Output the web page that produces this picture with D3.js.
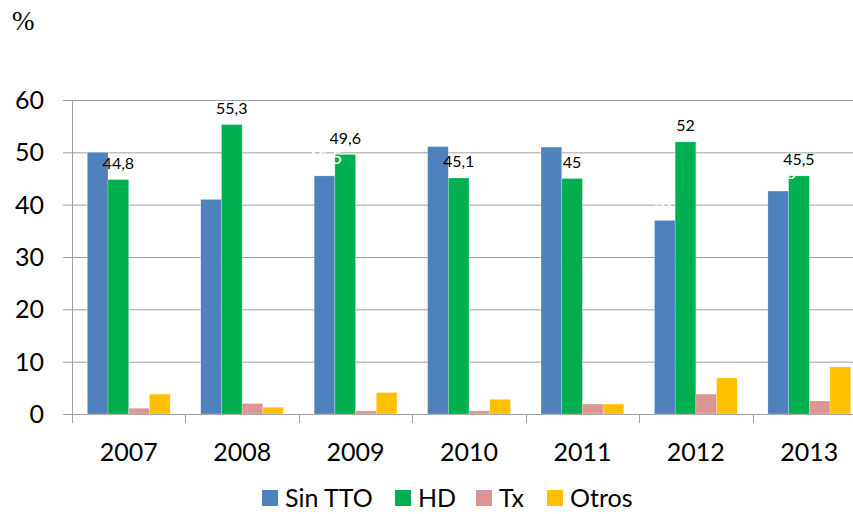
<!DOCTYPE html>
<html>
<head>
<meta charset="utf-8">
<script src="https://cdn.jsdelivr.net/npm/d3@7"></script>
<style>
  body { margin: 0; background: #fff; }
  text { font-family: Lato, "Open Sans", sans-serif; }
</style>
</head>
<body>
<div id="chart"></div>
<script>
let years = ["2007", "2008", "2009", "2010", "2011", "2012", "2013"];
let series = ["Sin TTO", "HD", "Tx", "Otros"];
let sinTTO = [50, 41, 45.5, 51.1, 51, 37, 42.6];
let hd = [44.8, 55.3, 49.6, 45.1, 45, 52, 45.5];
let tx = [1.1, 2.0, 0.6, 0.6, 1.9, 3.8, 2.5];
let otros = [3.8, 1.3, 4.1, 2.8, 1.9, 6.9, 9.0];
let yTicks = [0, 10, 20, 30, 40, 50, 60];
let colors = ["#4f81bd", "#00b050", "#d99694", "#ffc000"];

let values = [sinTTO, hd, tx, otros];
let data = years.map((y, i) => ({
  year: y,
  vals: series.map((s, j) => ({ key: s, value: values[j][i] }))
}));

let width = 853, height = 514;
let margin = { top: 100, bottom: 100, left: 72, right: -13 };

let svg = d3.select("#chart")
            .append("svg")
            .attr("width", width)
            .attr("height", height);

let yscale = d3.scaleLinear()
               .domain([0, 60])
               .range([height - margin.bottom, margin.top]);

let xscale = d3.scaleBand()
               .domain(years)
               .range([margin.left, width - margin.right]);

let inner = d3.scaleBand()
              .domain(series)
              .range([0, xscale.bandwidth()])
              .paddingInner(0)
              .paddingOuter(0.74);

let color = d3.scaleOrdinal().domain(series).range(colors);

// gridlines (with left tick stubs)
svg.append("g")
   .selectAll("line")
   .data(yTicks)
   .enter()
   .append("line")
   .attr("x1", margin.left - 9)
   .attr("x2", width)
   .attr("y1", d => yscale(d) + 0.5)
   .attr("y2", d => yscale(d) + 0.5)
   .attr("stroke", "#a0a0a0")
   .attr("stroke-width", 1);

// y axis line
svg.append("line")
   .attr("x1", margin.left + 0.5)
   .attr("x2", margin.left + 0.5)
   .attr("y1", yscale(60))
   .attr("y2", yscale(0))
   .attr("stroke", "#a0a0a0");

// x axis tick marks at category boundaries
svg.append("g")
   .selectAll("line")
   .data(years)
   .enter()
   .append("line")
   .attr("x1", d => Math.round(xscale(d)) + 0.5)
   .attr("x2", d => Math.round(xscale(d)) + 0.5)
   .attr("y1", yscale(0))
   .attr("y2", yscale(0) + 9)
   .attr("stroke", "#a0a0a0");

// y labels
svg.append("g")
   .selectAll("text")
   .data(yTicks)
   .enter()
   .append("text")
   .text(d => d)
   .attr("x", 44)
   .attr("y", d => yscale(d) + 9)
   .attr("text-anchor", "end")
   .attr("font-size", 25)
   .attr("fill", "#000");

// x labels
svg.append("g")
   .selectAll("text")
   .data(years)
   .enter()
   .append("text")
   .text(d => d)
   .attr("x", d => xscale(d) + xscale.bandwidth() / 2)
   .attr("y", 461)
   .attr("text-anchor", "middle")
   .attr("font-size", 25)
   .attr("fill", "#000");

// percent label
svg.append("text")
   .text("%")
   .attr("x", 12)
   .attr("y", 30)
   .style("font-family", "'Liberation Serif', serif")
   .attr("font-size", 27)
   .attr("fill", "#000");

// bars
let groups = svg.selectAll(".grp")
                .data(data)
                .enter()
                .append("g")
                .attr("class", "grp")
                .attr("transform", d => `translate(${xscale(d.year)},0)`);

groups.selectAll("rect")
      .data(d => d.vals)
      .enter()
      .append("rect")
      .attr("x", d => inner(d.key))
      .attr("width", inner.bandwidth())
      .attr("y", d => yscale(d.value))
      .attr("height", d => yscale(0) - yscale(d.value))
      .attr("fill", d => color(d.key))
      .attr("stroke", "#fff")
      .attr("stroke-opacity", 0.4)
      .attr("stroke-width", 0.6);

let fmt = v => String(v).replace(".", ",");

// white labels for Sin TTO (mostly lost on the white background)
groups.append("text")
      .text(d => fmt(d.vals[0].value))
      .attr("x", inner("Sin TTO") + inner.bandwidth() / 2)
      .attr("y", d => yscale(d.vals[0].value) - 12)
      .attr("text-anchor", "middle")
      .attr("font-size", 18)
      .attr("fill", "#fff");

// black labels for HD
groups.append("text")
      .text(d => fmt(d.vals[1].value))
      .attr("x", inner("HD") + inner.bandwidth() / 2)
      .attr("y", d => yscale(d.vals[1].value) - 10.5)
      .attr("text-anchor", "middle")
      .attr("font-size", 16)
      .attr("fill", "#000");

// legend
let legendX = [262, 395, 476, 547];
let legend = svg.selectAll(".leg")
                .data(series)
                .enter()
                .append("g")
                .attr("class", "leg")
                .attr("transform", (d, i) => `translate(${legendX[i]},490)`);

legend.append("rect")
      .attr("width", 16)
      .attr("height", 16)
      .attr("fill", d => color(d));

legend.append("text")
      .text(d => d)
      .attr("x", 23)
      .attr("y", 17)
      .attr("font-size", 25)
      .attr("fill", "#000");
</script>
</body>
</html>
